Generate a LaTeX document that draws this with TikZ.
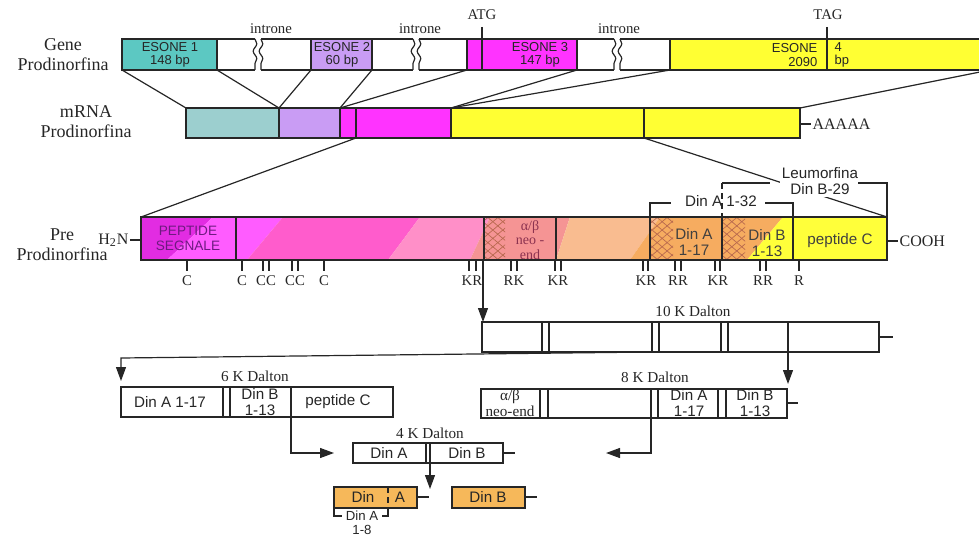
\documentclass[tikz,border=0pt]{standalone}
\usepackage{fontspec}
\setmainfont{Liberation Serif}
\newfontfamily\arialfont{Liberation Sans}
\usetikzlibrary{arrows.meta,patterns.meta,decorations.pathmorphing}

\definecolor{esoneteal}{HTML}{5CC8C2}
\definecolor{mrnateal}{HTML}{9CCFCF}
\definecolor{esonelilac}{HTML}{C99CF4}
\definecolor{esonemag}{HTML}{FF33FF}
\definecolor{esoneyel}{HTML}{FFFF33}
\definecolor{dinorange}{HTML}{F6B85A}
\definecolor{hatchbrown}{HTML}{B8684E}

\begin{document}
\begin{tikzpicture}[
    x=0.5pt, y=-0.5pt, line width=0.6pt, color=black!85,
    >={Triangle[length=7pt,width=5pt]},
    lab/.style={font=\fontsize{7.4}{8}\selectfont, inner sep=0.5pt},
    title/.style={font=\fontsize{9}{10}\selectfont, align=center, inner sep=0pt},
    dalton/.style={font=\fontsize{7.6}{8}\selectfont, inner sep=0pt},
    sanslab/.style={font=\arialfont\fontsize{7.6}{8}\selectfont, align=center, inner sep=0pt},
    genelab/.style={font=\arialfont\fontsize{6.5}{6.8}\selectfont, align=center, inner sep=0pt},
    brk/.style={decorate, decoration={snake, amplitude=0.9pt, segment length=7.5pt}},
  ]
  \useasboundingbox (0,0) rectangle (979,535);

  %% ---- gene ---------------------------------------------------------------
  \fill[esoneteal]  (122,39) rectangle (217,70);
  \fill[esonelilac] (311,39) rectangle (372,70);
  \fill[esonemag]   (467,39) rectangle (577,70);
  \fill[esoneyel]   (670,39) rectangle (990,70);
  \draw (990,39) -- (122,39) -- (122,70) -- (990,70);
  \foreach \x in {217,311,372,467,577,670}
    \draw (\x,39) -- (\x,70);
  \foreach \x in {255,413,614} {
    \fill[white] (\x,37) rectangle (\x+6,72);
    \draw[brk] (\x,39) -- (\x,70);
    \draw[brk] (\x+6,39) -- (\x+6,70);
  }
  \draw (482,27) -- (482,70);
  \draw (827,27) -- (827,70);
  \node[lab] (atg) at (482,15) {ATG};
  \node[lab] (tag) at (828,15) {TAG};
  \foreach \x [count=\i] in {271,420,619}
    \node[lab] (intr\i) at (\x,29) {introne};
  \node[title] (gene) at (63,55) {Gene\\Prodinorfina};
  \node[genelab] (es1) at (170,55) {ESONE 1\\148 bp};
  \node[genelab] (es2) at (342,55) {ESONE 2\\60 bp};
  \node[genelab] (es3) at (540,55) {ESONE 3\\147 bp};
  \node[genelab, align=right, anchor=east] (es4) at (818,55) {ESONE\\2090};
  \node[genelab, align=left, anchor=west] (es4b) at (834,55) {4\\bp};

  %% ---- mRNA ---------------------------------------------------------------
  \fill[mrnateal]   (186,108) rectangle (279,138);
  \fill[esonelilac] (279,108) rectangle (340,138);
  \fill[esonemag]   (340,108) rectangle (451,138);
  \fill[esoneyel]   (451,108) rectangle (800,138);
  \draw (186,108) rectangle (800,138);
  \foreach \x in {279,340,356,451,644}
    \draw (\x,108) -- (\x,138);
  \node[title] (mrna) at (86,122) {mRNA\\Prodinorfina};
  \draw (800,124) -- (811,124) node[right, lab, font=\fontsize{8}{9}\selectfont] (polya) {AAAAA};

  \foreach \a/\b in {122/186,217/279,311/279,372/340,467/340,577/451,670/451,990/800}
    \draw (\a,70) -- (\b,108);

  %% ---- pre prodinorfina --------------------------------------------------
  \draw (356,138) -- (141,217);
  \draw (644,138) -- (887,217);
  \begin{scope}
    \clip (141,217) rectangle (887,260);
    \foreach \ba/\ta/\bb/\tb/\c in {
        100/100/167/213/E22CE2, 167/213/247/283/FF5CFF, 247/283/388/420/FF5CCC,
        388/420/470/490/FF8FC8, 470/490/556/570/F59494, 556/570/630/660/F9BC90,
        630/660/747/783/F6AC60, 747/783/900/900/FFFF3A} {
      \definecolor{bandc}{HTML}{\c}
      \fill[bandc] (\ba,260) -- (\ta,217) -- (\tb,217) -- (\bb,260) -- cycle;
    }
  \end{scope}
  \foreach \l/\r in {484/505,650/673,722/745} {
    \fill[pattern={Lines[angle=40,distance=3.2pt,line width=0.35pt]}, pattern color=hatchbrown] (\l,217) rectangle (\r,260);
    \fill[pattern={Lines[angle=-40,distance=3.2pt,line width=0.35pt]}, pattern color=hatchbrown] (\l,217) rectangle (\r,260);
  }
  \draw (141,217) rectangle (887,260);
  \foreach \x in {236,484,556,650,722,793}
    \draw (\x,217) -- (\x,260);
  \node[title] (pre) at (62,245) {Pre\\Prodinorfina};
  \draw (141,240) -- (130,240) node[left, lab, font=\fontsize{8}{9}\selectfont] (h2n) {H\textsubscript{2}N};
  \draw (887,241) -- (898,241) node[right, lab, font=\fontsize{8}{9}\selectfont] (cooh) {COOH};
  \node[genelab, text={rgb,255:red,110;green,26;blue,128}, font=\arialfont\fontsize{6.8}{7.4}\selectfont] (segn) at (188,238) {PEPTIDE\\SEGNALE};
  \node[align=center, inner sep=0pt, text={rgb,255:red,140;green,50;blue,80}, font=\fontsize{7}{7.3}\selectfont] (neo) at (530,240) {α/β\\neo -\\end};
  \node[sanslab, text=black!75] (dina) at (694,242) {Din A\\1-17};
  \node[sanslab, text=black!75] (dinb) at (767,243) {Din B\\1-13};
  \node[sanslab, text=black!75] (pepc) at (840,241) {peptide C};

  %% ---- cleavage sites ------------------------------------------------------
  \foreach \x in {187,242,263,269,292,298,324,469,476,511,517,555,561,643,648,675,681,715,720,760,766,799}
    \draw (\x,260) -- (\x,271);
  \foreach \x/\t in {187/C,242/C,266/CC,295/CC,324/C,472/KR,514/RK,558/KR,646/KR,678/RR,718/KR,763/RR,799/R}
    \node[lab, anchor=north] at (\x,274) {\t};

  %% ---- brackets --------------------------------------------------------------
  \node[sanslab, fill=white, inner sep=1pt] (leu) at (820,181) {Leumorfina\\Din B-29};
  \draw[densely dashed] (722,183) -- (722,217);
  \draw (722,183) -- (770,183);
  \draw (858,183) -- (887,183) -- (887,217);
  \draw (650,217) -- (650,203) -- (671,203);
  \draw (765,203) -- (793,203) -- (793,217);
  \node[sanslab] (dina32) at (721,201) {Din A 1-32};

  %% ---- fragments -----------------------------------------------------------
  \coordinate (kr) at (483,260);
  \coordinate (k10top) at (483,322);
  \draw[->] (kr) -- (k10top);

  % 10 K
  \draw (482,322) rectangle (879,352);
  \foreach \x in {542,549,652,659,721,728}
    \draw (\x,322) -- (\x,352);
  \draw (879,337) -- (893,337);
  \node[dalton] (k10) at (693,311) {10 K Dalton};

  % 6 K
  \draw (121,387) rectangle (393,417);
  \foreach \x in {223,230,291}
    \draw (\x,387) -- (\x,417);
  \node[dalton] (k6) at (255,376) {6 K Dalton};
  \node[sanslab] at (170,402) {Din A 1-17};
  \node[sanslab] at (260,402) {Din B\\1-13};
  \node[sanslab] at (338,402) {peptide C};

  % 8 K
  \draw (481,389) rectangle (787,418);
  \foreach \x in {540,548,651,658,718,726}
    \draw (\x,389) -- (\x,418);
  \draw (787,403) -- (798,403);
  \node[dalton] (k8) at (655,377) {8 K Dalton};
  \node[align=center, inner sep=0pt, font=\fontsize{7.6}{8}\selectfont] at (510,403) {α/β\\neo-end};
  \node[sanslab] at (689,403) {Din A\\1-17};
  \node[sanslab] at (755,403) {Din B\\1-13};

  % 4 K
  \draw (353,443) rectangle (503,463);
  \foreach \x in {426,430}
    \draw (\x,443) -- (\x,463);
  \draw (503,453) -- (515,453);
  \node[dalton] (k4) at (430,433) {4 K Dalton};
  \node[sanslab] at (389,453) {Din A};
  \node[sanslab] at (467,453) {Din B};

  % connectors between fragments
  \coordinate (k10bl) at (652,352);
  \coordinate (k6in) at (121,381);
  \draw[->] (k10bl) -- (121,358) -- (k6in);
  \coordinate (k10br) at (788,322);
  \coordinate (k8in) at (788,384);
  \draw[->] (k10br) -- (k8in);
  \coordinate (k6out) at (291,417);
  \coordinate (k4l) at (334,453);
  \draw[->] (k6out) |- (k4l);
  \coordinate (k8out) at (651,418);
  \coordinate (k4r) at (606,453);
  \draw[->] (k8out) |- (k4r);
  \coordinate (k4out) at (430,463);
  \coordinate (dinin) at (430,489);
  \draw[->] (k4out) -- (dinin);

  % Din A / Din B
  \filldraw[fill=dinorange] (334,487) rectangle (417,508);
  \draw[densely dashed] (388,487) -- (388,508);
  \draw (417,497) -- (429,497);
  \node[sanslab] at (363,497) {Din};
  \node[sanslab] at (400,497) {A};
  \filldraw[fill=dinorange] (452,487) rectangle (525,508);
  \draw (525,497) -- (537,497);
  \node[sanslab] (dinb2) at (488,497) {Din B};
  \draw (334,508) -- (334,516) -- (342,516);
  \draw (382,516) -- (388,516) -- (388,508);
  \node[genelab, font=\arialfont\fontsize{6.6}{7}\selectfont] (dina8) at (362,516) {Din A};
  \node[genelab, font=\arialfont\fontsize{6.6}{7}\selectfont] at (362,530) {1-8};
\end{tikzpicture}
\end{document}
